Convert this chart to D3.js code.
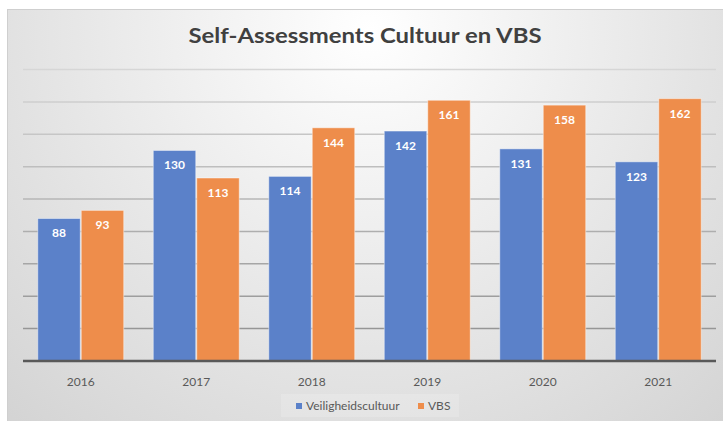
<!DOCTYPE html>
<html>
<head>
<meta charset="utf-8">
<script src="https://cdn.jsdelivr.net/npm/d3@7"></script>
<style>
  body { margin: 0; background: #fff; }
  svg text { font-family: Lato, "Open Sans", sans-serif; }
</style>
</head>
<body>
<div class="chart-wrapper"></div>
<script>
const years = ['2016', '2017', '2018', '2019', '2020', '2021']
const veiligheid = [88, 130, 114, 142, 131, 123]
const vbs = [93, 113, 144, 161, 158, 162]
const seriesNames = ['Veiligheidscultuur', 'VBS']
const yTicks = [0, 20, 40, 60, 80, 100, 120, 140, 160, 180]

const colors = { 'Veiligheidscultuur': '#5b81c9', 'VBS': '#ee8d4b' }

const width = 723
const height = 421
const plot = { left: 23, right: 716, top: 69.5, bottom: 361 }

const data = years.map((y, i) => ({ year: y, values: [
  { key: seriesNames[0], value: veiligheid[i] },
  { key: seriesNames[1], value: vbs[i] }
]}))

let svg = d3.select('.chart-wrapper')
  .append('svg')
  .attr('width', width)
  .attr('height', height)

let defs = svg.append('defs')

let bg = defs.append('radialGradient')
  .attr('id', 'bg')
  .attr('gradientUnits', 'userSpaceOnUse')
  .attr('cx', 370).attr('cy', 30).attr('r', 540)
bg.append('stop').attr('offset', 0).attr('stop-color', '#ffffff')
bg.append('stop').attr('offset', 1).attr('stop-color', '#d3d3d3')

let gridGrad = defs.append('linearGradient')
  .attr('id', 'gridgrad')
  .attr('gradientUnits', 'userSpaceOnUse')
  .attr('x1', 0).attr('x2', 0).attr('y1', plot.top).attr('y2', plot.bottom)
gridGrad.append('stop').attr('offset', 0).attr('stop-color', '#d6d6d6')
gridGrad.append('stop').attr('offset', 1).attr('stop-color', '#8e8e8e')

// chart area
svg.append('rect')
  .attr('x', 7.5).attr('y', 9.5)
  .attr('width', width + 10).attr('height', height + 10)
  .attr('fill', 'url(#bg)')
  .attr('stroke', '#cfcfcf')
  .attr('stroke-width', 1)

// title
svg.append('text')
  .attr('x', 365)
  .attr('y', 43)
  .attr('text-anchor', 'middle')
  .attr('font-size', 21)
  .attr('font-weight', 'bold')
  .attr('fill', '#404040')
  .attr('textLength', 353)
  .attr('lengthAdjust', 'spacingAndGlyphs')
  .text('Self-Assessments Cultuur en VBS')

let x0 = d3.scaleBand()
  .domain(years)
  .range([plot.left, plot.right])
  .paddingInner(0.247)
  .paddingOuter(0.1235)

let x1 = d3.scaleBand()
  .domain(seriesNames)
  .range([0, x0.bandwidth()])

let y = d3.scaleLinear()
  .domain([0, 180])
  .range([plot.bottom, plot.top])

// gridlines
svg.append('g')
  .attr('class', 'grid')
  .selectAll('line')
  .data(yTicks.filter(d => d > 0))
  .enter().append('line')
  .attr('x1', plot.left)
  .attr('x2', plot.right)
  .attr('y1', d => y(d))
  .attr('y2', d => y(d))
  .attr('stroke', 'url(#gridgrad)')
  .attr('stroke-width', 1.5)

// bars
let groups = svg.append('g')
  .selectAll('g')
  .data(data)
  .enter().append('g')
  .attr('transform', d => 'translate(' + x0(d.year) + ',0)')

groups.selectAll('rect')
  .data(d => d.values)
  .enter().append('rect')
  .attr('x', d => x1(d.key) + 0.5)
  .attr('width', x1.bandwidth() - 1)
  .attr('y', d => y(d.value))
  .attr('height', d => y(0) - y(d.value))
  .attr('fill', d => colors[d.key])
  .attr('stroke', 'rgba(255,255,255,0.45)')
  .attr('stroke-width', 1)

groups.selectAll('text')
  .data(d => d.values)
  .enter().append('text')
  .attr('x', d => x1(d.key) + x1.bandwidth() / 2)
  .attr('y', d => y(d.value) + 19)
  .attr('text-anchor', 'middle')
  .attr('font-size', 12)
  .attr('font-weight', 'bold')
  .attr('fill', '#ffffff')
  .text(d => d.value)

// x axis
let xaxis = svg.append('g')
  .attr('class', 'x axis')
  .attr('transform', 'translate(0,' + plot.bottom + ')')
  .call(d3.axisBottom(x0).tickSize(0).tickPadding(16))

xaxis.select('.domain')
  .attr('d', 'M' + plot.left + ',0H' + plot.right)
  .attr('stroke', '#595959')
  .attr('stroke-width', 2.5)

xaxis.selectAll('text')
  .attr('font-family', 'Lato, sans-serif')
  .attr('font-size', 12)
  .attr('fill', '#595959')

// legend
let legend = svg.append('g').attr('class', 'legend')

legend.append('rect')
  .attr('x', 281).attr('y', 394)
  .attr('width', 178).attr('height', 23)
  .attr('fill', 'rgba(255,255,255,0.18)')

let legendX = [296, 418]
let items = legend.selectAll('g')
  .data(seriesNames)
  .enter().append('g')
  .attr('transform', (d, i) => 'translate(' + legendX[i] + ',403)')

items.append('rect')
  .attr('width', 6).attr('height', 6)
  .attr('fill', d => colors[d])

items.append('text')
  .attr('x', 10)
  .attr('y', 7)
  .attr('font-size', 12)
  .attr('fill', '#595959')
  .text(d => d)
</script>
</body>
</html>
